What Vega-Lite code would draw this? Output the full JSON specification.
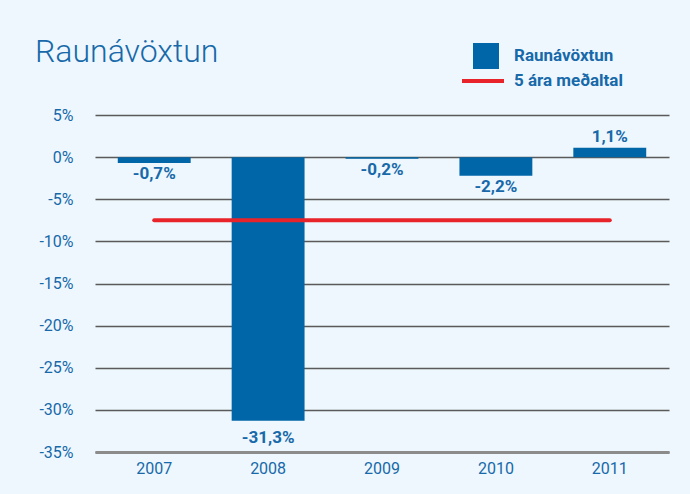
{
  "$schema": "https://vega.github.io/schema/vega-lite/v6.json",
  "width": 574,
  "height": 337,
  "autosize": {"type": "none"},
  "padding": {"left": 95, "top": 115, "right": 21, "bottom": 42},
  "background": "#eef7fd",
  "title": {
    "text": "Raunávöxtun",
    "anchor": "start",
    "frame": "group",
    "dx": -60,
    "offset": -51,
    "baseline": "alphabetic",
    "font": "Roboto",
    "fontSize": 32,
    "fontWeight": 300,
    "color": "#1769aa"
  },
  "config": {
    "view": {"stroke": null},
    "locale": {
      "number": {"decimal": ",", "thousands": ".", "grouping": [3], "currency": ["", " kr."], "minus": "-"}
    },
    "axis": {"labelFont": "Roboto", "labelFontSize": 16, "labelColor": "#1769aa"},
    "legend": {"labelFont": "Roboto", "labelFontSize": 17, "labelFontWeight": "bold", "labelColor": "#1769aa"}
  },
  "data": {
    "values": [
      {"year": "2007", "v": -0.007, "avg": -0.075},
      {"year": "2008", "v": -0.313, "avg": -0.075},
      {"year": "2009", "v": -0.002, "avg": -0.075},
      {"year": "2010", "v": -0.022, "avg": -0.075},
      {"year": "2011", "v": 0.011, "avg": -0.075}
    ]
  },
  "encoding": {
    "x": {
      "field": "year",
      "type": "ordinal",
      "scale": {"paddingInner": 0.36, "paddingOuter": 0.2},
      "axis": {
        "title": null,
        "labelAngle": 0,
        "ticks": false,
        "domainColor": "#8c8c8c",
        "domainWidth": 3,
        "labelPadding": 8,
        "grid": false
      }
    }
  },
  "layer": [
    {
      "mark": {"type": "bar"},
      "encoding": {
        "y": {
          "field": "v",
          "type": "quantitative",
          "scale": {"domain": [-0.35, 0.05], "nice": false, "zero": false},
          "axis": {
            "title": null,
            "format": ".0%",
            "values": [-0.35, -0.3, -0.25, -0.2, -0.15, -0.1, -0.05, 0, 0.05],
            "domain": false,
            "ticks": false,
            "labelPadding": 22,
            "gridColor": "#5a5a5a",
            "gridWidth": 1.3
          }
        },
        "fill": {
          "datum": "Raunávöxtun",
          "scale": {"range": ["#0066a8"]},
          "legend": {
            "title": null,
            "orient": "none",
            "legendX": 378,
            "legendY": -72,
            "symbolType": "square",
            "symbolSize": 676,
            "symbolStrokeWidth": 0,
            "labelOffset": 15
          }
        }
      }
    },
    {
      "transform": [{"filter": "datum.v >= 0"}],
      "mark": {"type": "text", "fontWeight": "bold", "font": "Roboto", "fontSize": 17, "color": "#1769aa", "baseline": "middle", "dy": -11},
      "encoding": {
        "y": {"field": "v", "type": "quantitative"},
        "text": {"field": "v", "type": "quantitative", "format": ".1%"}
      }
    },
    {
      "transform": [{"filter": "datum.v < 0 && datum.v > -0.3"}],
      "mark": {"type": "text", "fontWeight": "bold", "font": "Roboto", "fontSize": 17, "color": "#1769aa", "baseline": "middle", "dy": 11},
      "encoding": {
        "y": {"field": "v", "type": "quantitative"},
        "text": {"field": "v", "type": "quantitative", "format": ".1%"}
      }
    },
    {
      "transform": [{"filter": "datum.v <= -0.3"}],
      "mark": {"type": "text", "fontWeight": "bold", "font": "Roboto", "fontSize": 17, "color": "#1769aa", "baseline": "middle", "dy": 17},
      "encoding": {
        "y": {"field": "v", "type": "quantitative"},
        "text": {"field": "v", "type": "quantitative", "format": ".1%"}
      }
    },
    {
      "mark": {"type": "line", "strokeWidth": 4, "strokeCap": "round"},
      "encoding": {
        "y": {"field": "avg", "type": "quantitative"},
        "stroke": {
          "datum": "5 ára meðaltal",
          "scale": {"range": ["#e8242a"]},
          "legend": {
            "title": null,
            "orient": "none",
            "legendX": 365,
            "legendY": -57,
            "symbolType": "stroke",
            "symbolSize": 1764,
            "symbolStrokeWidth": 4,
            "labelOffset": 8
          }
        }
      }
    }
  ],
  "resolve": {"scale": {"fill": "independent", "stroke": "independent"}, "legend": {"fill": "independent", "stroke": "independent"}}
}
